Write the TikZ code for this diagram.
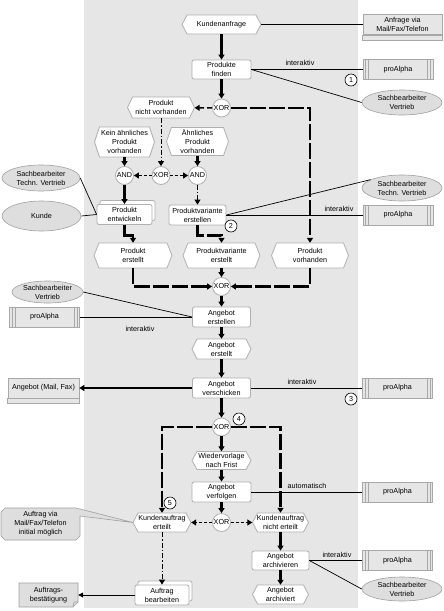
\documentclass[tikz,border=0pt]{standalone}
\usepackage{fontspec}
\setmainfont{Liberation Sans}
\usetikzlibrary{shapes.geometric,arrows.meta}
\definecolor{band}{HTML}{E6E6E6}
\definecolor{nodegray}{HTML}{B0B0B0}
\definecolor{ellfill}{HTML}{DEDEDE}
\definecolor{ellgray}{HTML}{A0A0A0}
\definecolor{sysfill}{HTML}{E6E6E6}
\definecolor{sysgray}{HTML}{A8A8A8}
\newcommand\evt[6]{%
 \path[evtshape] ({#2-#4/2},#3) -- ({#2-#4/2+5},{#3-#5/2}) -- ({#2+#4/2-5},{#3-#5/2}) -- ({#2+#4/2},#3) -- ({#2+#4/2-5},{#3+#5/2}) -- ({#2-#4/2+5},{#3+#5/2}) -- cycle;
 \node[txt, minimum width=#4pt, minimum height=#5pt] (#1) at (#2,#3) {#6};}
\newcommand\stk[4]{%
 \path[fnbox] ({#1-#3/2+3},{#2-#4/2-4}) rectangle ({#1+#3/2+3},{#2+#4/2-4});}
\newcommand\sysbox[3]{%
 \node[sys] (#1) at (#2,#3) {proAlpha};
 \foreach \dd in {3,6} {
   \draw[sysln] ([xshift=\dd pt]#1.north west) -- ([xshift=\dd pt]#1.south west);
   \draw[sysln] ([xshift=-\dd pt]#1.north east) -- ([xshift=-\dd pt]#1.south east);
 }}
\newcommand\docbox[6]{%
 \node[docn, minimum width=#4pt, minimum height=#5pt] (#1) at (#2,#3) {#6};
 \draw[docln] (#1.south west) rectangle ([yshift=-5pt]#1.south east);}
\begin{document}
\begin{tikzpicture}[x=1pt,y=-1pt,
 txt/.style={font=\fontsize{7.2}{9}\selectfont, align=center, inner sep=0pt},
 evtshape/.style={draw=nodegray, fill=white, line width=0.8pt},
 fnbox/.style={draw=nodegray, fill=white, rounded corners=2pt, line width=0.8pt},
 fn/.style={txt, fnbox, rectangle},
 gate/.style={txt, circle, draw=nodegray, fill=white, minimum size=18pt, line width=0.8pt},
 ell/.style={txt, ellipse, draw=ellgray, fill=ellfill, line width=0.6pt},
 sys/.style={txt, rectangle, draw=sysgray, fill=sysfill, minimum width=70pt, minimum height=20pt, line width=0.6pt},
 sysln/.style={draw=sysgray, line width=0.6pt},
 docn/.style={txt, rectangle, draw=sysgray, fill=sysfill, line width=0.6pt},
 docln/.style={draw=sysgray, fill=sysfill, line width=0.6pt},
 grayshape/.style={draw=ellgray, fill=ellfill, line width=0.6pt},
 num/.style={txt, circle, draw=black, fill=white, minimum size=12pt, line width=0.6pt},
 lbl/.style={txt},
 tip/.style={-{Triangle[length=5pt,width=6pt]}},
 thk/.style={line width=2.2pt},
 thkdash/.style={line width=2.2pt, dash pattern=on 16pt off 3pt},
 meddash/.style={line width=1.4pt, dash pattern=on 5pt off 3pt},
 thindash/.style={line width=1pt, dash pattern=on 3pt off 2pt},
 dashdot/.style={line width=0.9pt, dash pattern=on 5pt off 2pt on 1.5pt off 2pt},
 thn/.style={line width=0.9pt},
 ethn/.style={line width=0.7pt}]
\useasboundingbox (0,0) rectangle (444,611);
\fill[white] (0,0) rectangle (444,611);
\fill[band] (84,0) rectangle (358,608);

% main nodes
\evt{ka}{221.5}{24.5}{79}{19}{Kundenanfrage}
\node[fn, minimum width=59pt, minimum height=19pt] (pf) at (221.5,69.5) {Produkte\\finden};
\node[gate] (xor1) at (221.5,108) {XOR};
\evt{pnv}{161}{107.5}{67}{21}{Produkt\\nicht vorhanden}
\evt{kap}{124.5}{142}{60}{30}{Kein ähnliches\\Produkt\\vorhanden}
\evt{ap}{197.5}{141.5}{62}{28}{Ähnliches\\Produkt\\vorhanden}
\node[gate] (andl) at (124.5,175.5) {AND};
\node[gate] (xor2) at (161,175.5) {XOR};
\node[gate] (andr) at (197.5,175.5) {AND};
\stk{124.5}{214.5}{55}{20}
\node[fn, minimum width=55pt, minimum height=20pt] (pe) at (124.5,214.5) {Produkt\\entwickeln};
\node[fn, minimum width=57pt, minimum height=20pt] (pv) at (197.5,215) {Produktvariante\\erstellen};
\evt{pers}{133}{255.5}{78}{25}{Produkt\\erstellt}
\evt{pve}{221.5}{255.5}{77}{25}{Produktvariante\\erstellt}
\evt{pvh}{310}{255.5}{77}{25}{Produkt\\vorhanden}
\node[gate] (xor3) at (221.5,286.5) {XOR};
\node[fn, minimum width=58pt, minimum height=20pt] (ae) at (221.5,317) {Angebot\\erstellen};
\evt{aerst}{221.5}{349}{59}{20}{Angebot\\erstellt}
\node[fn, minimum width=58pt, minimum height=20pt] (av) at (221.5,388) {Angebot\\verschicken};
\node[gate] (xor4) at (221.5,427) {XOR};
\evt{wv}{221.5}{460.5}{59}{18}{Wiedervorlage\\nach Frist}
\node[fn, minimum width=59pt, minimum height=20pt] (avf) at (221.5,492) {Angebot\\verfolgen};
\node[gate] (xor5) at (221.5,522.5) {XOR};
\evt{ke}{162}{522.5}{58}{19}{Kundenauftrag\\erteilt}
\evt{kne}{280.5}{522.5}{56}{19}{Kundenauftrag\\nicht erteilt}
\node[fn, minimum width=57pt, minimum height=19pt] (aa) at (280.5,560.5) {Angebot\\archivieren};
\evt{aarch}{280.5}{594.5}{56}{19}{Angebot\\archiviert}
\stk{162}{595}{54}{20}
\node[fn, minimum width=54pt, minimum height=20pt] (ab) at (162,595) {Auftrag\\bearbeiten};

% side objects
\docbox{anf}{402.5}{24.5}{79}{20}{Anfrage via\\Mail/Fax/Telefon}
\docbox{amf}{43.5}{388}{71}{20}{Angebot (Mail, Fax)}
\sysbox{pa1}{398}{69.5}
\sysbox{pa2}{398}{215}
\sysbox{pa3}{44.5}{317}
\sysbox{pa4}{397.5}{388}
\sysbox{pa5}{397.5}{492}
\sysbox{pa6}{397.5}{560.5}
\node[ell, minimum width=80pt, minimum height=25pt] (svt) at (402,102.5) {Sachbearbeiter\\Vertrieb};
\node[ell, minimum width=78pt, minimum height=26pt] (stvl) at (41,178) {Sachbearbeiter\\Techn. Vertrieb};
\node[ell, minimum width=79pt, minimum height=30pt] (kunde) at (41.5,216) {Kunde};
\node[ell, minimum width=80pt, minimum height=26pt] (stvr) at (402,188) {Sachbearbeiter\\Techn. Vertrieb};
\node[ell, minimum width=71pt, minimum height=22pt] (svl) at (47.5,292) {Sachbearbeiter\\Vertrieb};
\node[ell, minimum width=80pt, minimum height=24pt] (svb) at (402,589) {Sachbearbeiter\\Vertrieb};

% callout
\path[grayshape] (5,508) -- (76,508) -- (ke.west) -- (80,516) -- (80,536) -- (76,540) -- (5,540) -- (1,536) -- (1,512) -- cycle;
\node[txt] (cal) at (40.5,524) {Auftrag via\\Mail/Fax/Telefon\\initial möglich};
% Auftragsbestaetigung
\path[grayshape] (19,583) -- (78,583) -- (78,602) -- (73,607) -- (19,607) -- cycle;
\draw[draw=ellgray, line width=0.6pt] (73,607) -- (74,602) -- (78,602);
\node[txt, minimum width=59pt, minimum height=24pt] (abst) at (48.5,595) {Auftrags-\\bestätigung};

% control flow
\draw[thk,tip] (ka) -- (pf);
\draw[thk,tip] (pf) -- (xor1);
\draw[meddash,tip] (xor1) -- (pnv);
\draw[thkdash,tip] (xor1.east) -| (pvh.north);
\draw[dashdot,tip] (pnv) -- (xor2);
\draw[thindash,tip] (xor2) -- (andl);
\draw[thindash,tip] (xor2) -- (andr);
\draw[thk,tip] (kap) -- (andl);
\draw[thk,tip] (ap) -- (andr);
\draw[thk,tip] (andl) -- (pe);
\draw[dashdot,tip] (andr) -- (pv);
\draw[thk,tip] (pe.south) -- ++(0,10.5) -| (pers.north);
\draw[thkdash,tip] (pv.south) -- ++(0,10) -| (pve.north);
\draw[thkdash,tip] (pers.south) |- (xor3.west);
\draw[thkdash,tip] (pve) -- (xor3);
\draw[thkdash,tip] (pvh.south) |- (xor3.east);
\draw[thk,tip] (xor3) -- (ae);
\draw[thk,tip] (ae) -- (aerst);
\draw[thk,tip] (aerst) -- (av);
\draw[thk,tip] (av) -- (amf);
\draw[thk,tip] (av) -- (xor4);
\draw[thkdash,tip] (xor4.west) -| (ke.north);
\draw[thkdash,tip] (xor4.east) -| (kne.north);
\draw[thk,tip] (xor4) -- (wv);
\draw[thk,tip] (wv) -- (avf);
\draw[thk,tip] (avf) -- (xor5);
\draw[thindash,tip] (xor5) -- (ke);
\draw[thindash,tip] (xor5) -- (kne);
\draw[dashdot,tip] (ke) -- (ab);
\draw[thk,tip] (kne) -- (aa);
\draw[thk,tip] (aa) -- (aarch);
\draw[thn,-{Triangle[length=5pt,width=5pt]}] (ab) -- (abst);

% associations
\draw[thn] (ka.east) -- (anf.west);
\draw[thn] (pf.east) -- (pa1.west);
\draw[ethn] (pf.east) -- (svt.west);
\draw[thn] (pv.east) -- (pa2.west);
\draw[ethn] (pv.east) -- (stvr.165);
\draw[ethn] (stvl.east) -- (pe.west);
\draw[ethn] (kunde.east) -- (pe.west);
\draw[ethn] (svl.east) -- (ae.west);
\draw[thn] (pa3.east) -- (ae.west);
\draw[thn] (av.east) -- (pa4.west);
\draw[thn] (avf.east) -- (pa5.west);
\draw[thn] (aa.east) -- (pa6.west);
\draw[ethn] (aa.east) -- (svb.west);

% labels
\node[lbl] (l1) at (300,63) {interaktiv};
\node[lbl] (l2) at (339,209) {interaktiv};
\node[lbl] (l3) at (140,329) {interaktiv};
\node[lbl] (l4) at (302,382) {interaktiv};
\node[lbl] (l5) at (307,486) {automatisch};
\node[lbl] (l6) at (337,555) {interaktiv};

% numbers
\node[num] (n1) at (351,80) {1};
\node[num] (n2) at (231,226) {2};
\node[num] (n3) at (351,399) {3};
\node[num] (n4) at (239,419) {4};
\node[num] (n5) at (170,503) {5};
\end{tikzpicture}
\end{document}
